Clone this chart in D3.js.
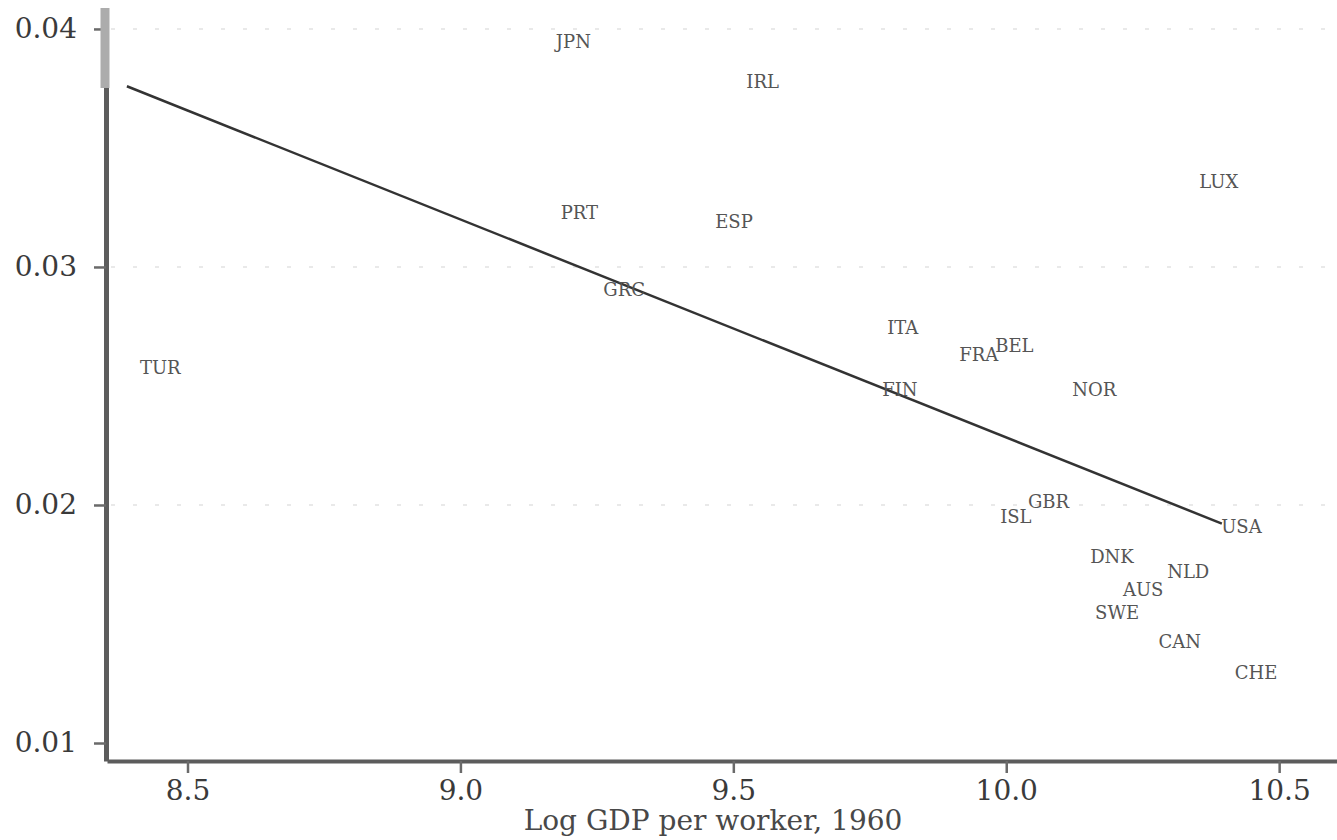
<!DOCTYPE html>
<html>
<head>
<meta charset="utf-8">
<script src="https://cdn.jsdelivr.net/npm/d3@7"></script>
<style>
  body { margin: 0; background: #fff; }
  svg { display: block; }
</style>
</head>
<body>
<div id="chart"></div>
<script>
// country codes with log GDP per worker 1960 and growth rate
const countries = ["JPN", "IRL", "PRT", "ESP", "GRC", "LUX", "TUR", "ITA", "FRA", "BEL", "FIN",
                   "NOR", "GBR", "ISL", "USA", "DNK", "NLD", "AUS", "SWE", "CAN", "CHE"];
const logGdp = [9.151, 9.500, 9.160, 9.443, 9.238, 10.330, 8.389, 9.758, 9.890, 9.956, 9.749,
                10.097, 10.016, 9.965, 10.370, 10.130, 10.271, 10.190, 10.139, 10.255, 10.395];
const growth = [0.03945, 0.03777, 0.03227, 0.03189, 0.02903, 0.03357, 0.02576, 0.02744, 0.02630, 0.02668, 0.02483,
                0.02483, 0.02013, 0.01950, 0.01908, 0.01782, 0.01718, 0.01643, 0.01546, 0.01424, 0.01294];
const yTicks = [0.01, 0.02, 0.03, 0.04];
const gridTicks = [0.02, 0.03, 0.04];
const xTicks = [8.5, 9.0, 9.5, 10.0, 10.5];
const xTitle = "Log GDP per worker, 1960";

const width = 1337;
const height = 840;
const font = "'DejaVu Serif', serif";

const data = countries.map((c, i) => ({name: c, x: logGdp[i], y: growth[i]}));

const svg = d3.select("#chart")
    .append("svg")
    .attr("width", width)
    .attr("height", height)
    .attr("viewBox", [0, 0, width, height]);

const xScale = d3.scaleLinear()
    .domain([8.3525, 10.606])
    .range([107, 1337]);
const yScale = d3.scaleLinear()
    .domain([0.009244, 0.04088])
    .range([761, 8]);

// gridlines
svg.append("g")
    .selectAll("line")
    .data(gridTicks)
    .join("line")
    .attr("x1", xScale.range()[0] + 4)
    .attr("x2", xScale.range()[1])
    .attr("y1", d => yScale(d))
    .attr("y2", d => yScale(d))
    .style("stroke", "#e2e2e2")
    .style("stroke-width", 1.5)
    .style("stroke-dasharray", "4,18");

// fitted line (OLS through the points)
const mx = d3.mean(data, d => d.x);
const my = d3.mean(data, d => d.y);
const slope = d3.sum(data, d => (d.x - mx) * (d.y - my)) / d3.sum(data, d => (d.x - mx) * (d.x - mx));
const fit = d3.extent(data, d => d.x).map(x => ({x: x, y: my + slope * (x - mx)}));

svg.append("path")
    .datum(fit)
    .attr("fill", "none")
    .attr("stroke", "#333")
    .attr("stroke-width", 2.5)
    .attr("d", d3.line().x(d => xScale(d.x)).y(d => yScale(d.y)));

// country labels
svg.append("g")
    .selectAll("text")
    .data(data)
    .join("text")
    .attr("x", d => xScale(d.x) + 13)
    .attr("y", d => yScale(d.y))
    .attr("dy", "0.35em")
    .style("font-family", font)
    .style("font-size", "18px")
    .style("fill", "#555")
    .text(d => d.name);

// Y axis
const yAxis = svg.append("g")
    .attr("transform", `translate(${xScale.range()[0] - 1}, 0)`)
    .call(d3.axisLeft(yScale)
        .tickValues(yTicks)
        .tickFormat(d3.format(".2f"))
        .tickSize(12)
        .tickSizeOuter(0)
        .tickPadding(17));
yAxis.select(".domain")
    .style("stroke", "#5c5c5c")
    .style("stroke-width", 5);
yAxis.selectAll(".tick line")
    .style("stroke", "#6a6a6a")
    .style("stroke-width", 2.5);
yAxis.selectAll(".tick text")
    .style("font-family", font)
    .style("font-size", "28px")
    .style("fill", "#3a3a3a");
// the pale upper end of the axis
yAxis.append("line")
    .attr("x1", -1).attr("x2", -1)
    .attr("y1", yScale.range()[1])
    .attr("y2", 88)
    .style("stroke", "#acacac")
    .style("stroke-width", 9);
yAxis.select(".tick:last-of-type line").raise();

// X axis
const xAxis = svg.append("g")
    .attr("transform", `translate(0, ${yScale.range()[0]})`)
    .call(d3.axisBottom(xScale)
        .tickValues(xTicks)
        .tickFormat(d3.format(".1f"))
        .tickSize(12)
        .tickSizeOuter(0)
        .tickPadding(7));
xAxis.select(".domain")
    .style("stroke", "#5c5c5c")
    .style("stroke-width", 4);
xAxis.selectAll(".tick line")
    .style("stroke", "#6a6a6a")
    .style("stroke-width", 2.5);
xAxis.selectAll(".tick text")
    .style("font-family", font)
    .style("font-size", "28px")
    .style("fill", "#3a3a3a");

// X title
svg.append("text")
    .attr("x", 713)
    .attr("y", 830)
    .attr("text-anchor", "middle")
    .style("font-family", font)
    .style("font-size", "28px")
    .style("fill", "#484848")
    .text(xTitle);
</script>
</body>
</html>
